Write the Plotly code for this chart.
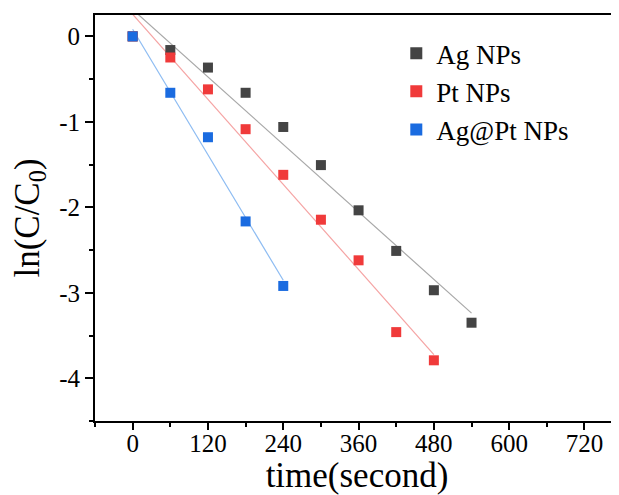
import numpy as np
import plotly.graph_objects as go

# Data
t_ag = [0, 60, 120, 180, 240, 300, 360, 420, 480, 540]
y_ag = [0, -0.16, -0.365, -0.66, -1.06, -1.506, -2.035, -2.51, -2.97, -3.35]
t_pt = [0, 60, 120, 180, 240, 300, 360, 420, 480]
y_pt = [0, -0.247, -0.62, -1.086, -1.62, -2.145, -2.62, -3.46, -3.79]
t_agpt = [0, 60, 120, 180, 240]
y_agpt = [0, -0.66, -1.18, -2.165, -2.92]

series_names = ["Ag NPs", "Pt NPs", "Ag@Pt NPs"]
marker_colors = ["#444444", "#f03a3a", "#1a6be0"]
line_colors = ["#a8a8a8", "#f5a3a3", "#8dbcf2"]

x_tickvals = [0, 120, 240, 360, 480, 600, 720]
x_ticktext = ["0", "120", "240", "360", "480", "600", "720"]
y_tickvals = [0, -1, -2, -3, -4]
y_ticktext = ["0", "-1", "-2", "-3", "-4"]

font_family = "Liberation Serif, Times New Roman, serif"

fig = go.Figure()
datasets = [(t_ag, y_ag), (t_pt, y_pt), (t_agpt, y_agpt)]

# fitted lines
for (tx, ty), lc in zip(datasets, line_colors):
    k, b = np.polyfit(tx, ty, 1)
    xs = [min(tx), max(tx)]
    fig.add_trace(go.Scatter(x=xs, y=[k * v + b for v in xs], mode="lines",
                             line=dict(color=lc, width=1.2), showlegend=False,
                             hoverinfo="skip"))

for (tx, ty), name, mc in zip(datasets, series_names, marker_colors):
    fig.add_trace(go.Scatter(x=tx, y=ty, mode="markers", name=name,
                             marker=dict(symbol="square", size=10, color=mc,
                                         line=dict(width=0))))

fig.update_layout(
    width=611, height=487,
    margin=dict(l=87, r=0, t=7, b=74),
    paper_bgcolor="white", plot_bgcolor="white",
    font=dict(family=font_family, color="black", size=26),
    legend=dict(x=0.575, y=0.965, xanchor="left", yanchor="top",
                bgcolor="rgba(0,0,0,0)", font=dict(size=27),
                itemsizing="constant", tracegroupgap=0),
    showlegend=True,
)
fig.update_xaxes(
    range=[-60, 775], showgrid=False, zeroline=False, automargin=False,
    showline=True, linecolor="black", linewidth=2, mirror=True,
    ticks="outside", ticklen=7, tickwidth=2, tickcolor="black",
    tickvals=x_tickvals, ticktext=x_ticktext, ticklabelstandoff=-8,
    minor=dict(ticks="outside", ticklen=4, tickwidth=2, tickcolor="black", dtick=60, tick0=0),
    tickfont=dict(size=25),
    title=dict(text="time(second)", font=dict(size=35), standoff=2),
)
fig.update_yaxes(
    range=[-4.5, 0.25], showgrid=False, zeroline=False, automargin=False,
    showline=True, linecolor="black", linewidth=2, mirror=False,
    ticks="outside", ticklen=8, tickwidth=2, tickcolor="black",
    tickvals=y_tickvals, ticktext=y_ticktext,
    minor=dict(ticks="outside", ticklen=4, tickwidth=2, tickcolor="black", dtick=0.5, tick0=0),
    tickfont=dict(size=25),
    title=dict(text="ln(C/C<sub>0</sub>)", font=dict(size=35), standoff=12),
)

fig.write_html("out.html")
